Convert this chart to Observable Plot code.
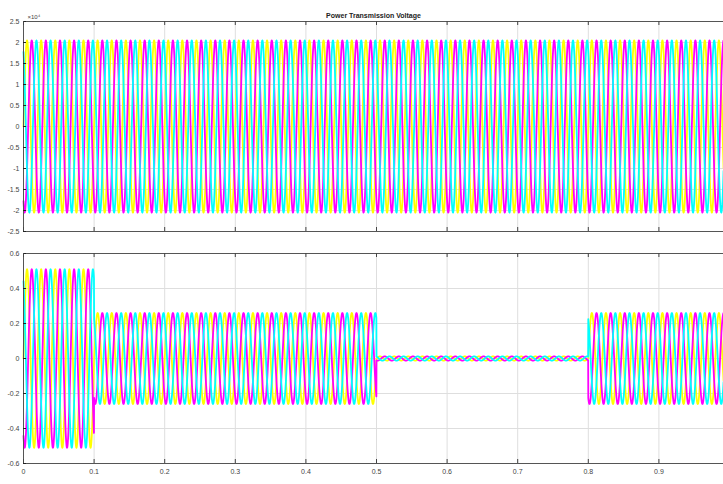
<!DOCTYPE html>
<html><head><meta charset="utf-8">
<script src="https://cdn.jsdelivr.net/npm/d3@7"></script>
<script src="https://cdn.jsdelivr.net/npm/@observablehq/plot@0.6"></script>
<style>
body{margin:0;background:#fff;}
#chart svg{display:block;}
</style></head><body><div id="chart"></div>
<script>
// ---- data ----
const title = "Power Transmission Voltage";
const topExponentLabel = "×10⁴";
const phaseNames = ["Va", "Vb", "Vc"];
const phaseColors = ["#ffff00", "#ff00ff", "#00ffff"];
const phaseShiftsDeg = [0, -120, 120];
const frequencyHz = 50;
const timeEnd = 0.9915;
const sampleStep = 0.0002;
// top panel (values in units of 10^4)
const topSegmentStarts = [0];
const topSegmentAmplitudes = [2.05];
// bottom panel
const bottomSegmentStarts = [0, 0.1, 0.5, 0.8];
const bottomSegmentAmplitudes = [0.51, 0.26, 0.012, 0.26];
// ticks
const xTicks = [0, 0.1, 0.2, 0.3, 0.4, 0.5, 0.6, 0.7, 0.8, 0.9];
const topYTicks = [-2.5, -2, -1.5, -1, -0.5, 0, 0.5, 1, 1.5, 2, 2.5];
const bottomYTicks = [-0.6, -0.4, -0.2, 0, 0.2, 0.4, 0.6];

// ---- build waveform table from the segment amplitudes ----
function waveform(starts, amps) {
  const rows = [];
  const n = Math.round(timeEnd / sampleStep);
  for (let p = 0; p < phaseNames.length; p++) {
    const ph = phaseShiftsDeg[p] * Math.PI / 180;
    for (let i = 0; i <= n; i++) {
      const t = i * sampleStep;
      let s = 0;
      for (let k = 0; k < starts.length; k++) if (t >= starts[k] - 1e-9) s = k;
      rows.push({t, v: amps[s] * Math.sin(2 * Math.PI * frequencyHz * t + ph), phase: phaseNames[p]});
    }
  }
  return rows;
}
const topData = waveform(topSegmentStarts, topSegmentAmplitudes);
const bottomData = waveform(bottomSegmentStarts, bottomSegmentAmplitudes);

const font = "'Liberation Sans', Arial, sans-serif";
const gridColor = "#dedede";
const axisColor = "#555";

function panel({data, yTicks, height, marginTop, marginBottom, showX, showTitle}) {
  const yDom = [yTicks[0], yTicks[yTicks.length - 1]];
  const innerH = height - marginTop - marginBottom;
  const innerW = 723 - 23;
  const marks = [
    Plot.gridX(xTicks, {stroke: gridColor, strokeOpacity: 1}),
    Plot.gridY(yTicks, {stroke: gridColor, strokeOpacity: 1}),
    Plot.line(data, {x: "t", y: "v", z: "phase", stroke: "phase", strokeWidth: 1.8, curve: "linear"}),
    Plot.ruleX([xTicks[0]], {stroke: axisColor}),
    Plot.ruleY([yDom[0]], {stroke: axisColor}),
    Plot.ruleY([yDom[1]], {stroke: axisColor}),
    Plot.tickY(yTicks, {y: d => d, stroke: "#222", insetRight: innerW - 3}),
    Plot.tickX(xTicks, {x: d => d, stroke: "#444", insetBottom: innerH - 4}),
    Plot.tickX(xTicks, {x: d => d, stroke: "#444", insetTop: innerH - 4}),
    Plot.axisY(yTicks, {tickSize: 0, tickPadding: 4, tickFormat: d => String(d), fill: "#444", fontSize: 7, label: null}),
    showX
      ? Plot.axisX(xTicks, {tickSize: 0, tickPadding: 6, tickFormat: d => String(d), fill: "#444", fontSize: 7, label: null})
      : Plot.axisX([], {label: null})
  ];
  if (showTitle) {
    marks.push(Plot.text([title], {text: d => d, frameAnchor: "top", dy: -8, fontWeight: "bold", fontSize: 7, fill: "#222"}));
    marks.push(Plot.text([topExponentLabel], {text: d => d, frameAnchor: "top-left", dx: 4, dy: -7, fontSize: 6, fill: "#444"}));
  }
  return Plot.plot({
    width: 723, height, marginLeft: 23, marginRight: 0, marginTop, marginBottom,
    style: {fontFamily: font, background: "#fff", overflow: "visible"},
    x: {domain: [0, timeEnd]},
    y: {domain: yDom},
    color: {domain: phaseNames, range: phaseColors},
    marks
  });
}

const chart = document.getElementById("chart");
chart.appendChild(panel({data: topData, yTicks: topYTicks, height: 240, marginTop: 21, marginBottom: 9, showX: false, showTitle: true}));
chart.appendChild(panel({data: bottomData, yTicks: bottomYTicks, height: 244, marginTop: 13, marginBottom: 21, showX: true, showTitle: false}));
</script></body></html>
